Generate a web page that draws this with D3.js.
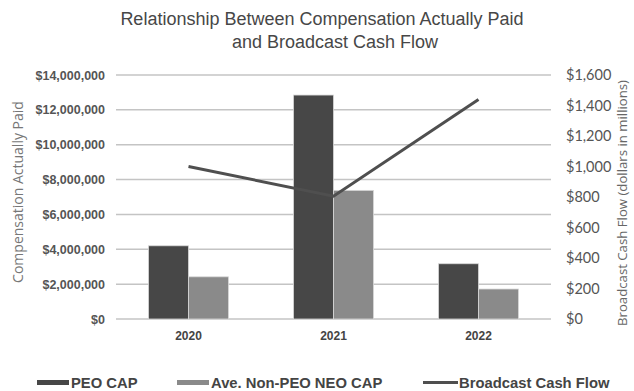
<!DOCTYPE html>
<html><head><meta charset="utf-8">
<script src="https://cdn.jsdelivr.net/npm/d3@7"></script>
<style>body{margin:0;background:#fff}svg{display:block}</style>
</head><body>
<svg id="c" width="634" height="391"></svg>
<script>
const categories = ["2020", "2021", "2022"];
const peoCap = [4200000, 12850000, 3170000];
const neoCap = [2420000, 7380000, 1720000];
const cashFlow = [1000, 805, 1440];
const leftTicks = [0, 2000000, 4000000, 6000000, 8000000, 10000000, 12000000, 14000000];
const rightTicks = [0, 200, 400, 600, 800, 1000, 1200, 1400, 1600];
const seriesNames = ["PEO CAP", "Ave. Non-PEO NEO CAP", "Broadcast Cash Flow"];

const svg = d3.select("#c");
const L = 116, R = 551, T = 75, B = 319;
const x = d3.scaleBand().domain(categories).range([L, R]).paddingInner(0).paddingOuter(0);
const yL = d3.scaleLinear().domain([0, 14000000]).range([B, T]);
const yR = d3.scaleLinear().domain([0, 1600]).range([B, T]);
const barW = 40;

// title
const title = svg.append("text").attr("fill", "#474747")
  .attr("font-family", "Liberation Sans, Arial, sans-serif").attr("font-size", 18).attr("text-anchor", "middle");
title.append("tspan").attr("x", 322).attr("y", 25).text("Relationship Between Compensation Actually Paid");
title.append("tspan").attr("x", 335).attr("y", 48).text("and Broadcast Cash Flow");

// gridlines
svg.append("g").selectAll("line").data(leftTicks).join("line")
  .attr("x1", L).attr("x2", R).attr("y1", d => yL(d)).attr("y2", d => yL(d))
  .attr("stroke", "#c4c4c4").attr("stroke-width", 1.5);

// left axis
const fmt = d3.format("$,");
const la = svg.append("g").attr("transform", `translate(${L - 11},0)`)
  .call(d3.axisLeft(yL).tickValues(leftTicks).tickFormat(d => fmt(d)).tickSize(0).tickPadding(0));
la.select(".domain").remove();
la.selectAll("text").attr("font-family", "Liberation Sans, Arial, sans-serif").attr("font-weight", "bold")
  .attr("font-size", 12.5).attr("fill", "#555");

// right axis
const ra = svg.append("g").attr("transform", `translate(566,0)`)
  .call(d3.axisRight(yR).tickValues(rightTicks).tickFormat(d => "$" + d3.format(",")(d)).tickSize(0).tickPadding(0));
ra.select(".domain").remove();
ra.selectAll("text").attr("font-family", "Lato, Open Sans, sans-serif")
  .attr("font-size", 14.5).attr("fill", "#555");

// x axis labels
const xa = svg.append("g").attr("transform", `translate(0,${B})`)
  .call(d3.axisBottom(x).tickSize(0).tickPadding(12));
xa.select(".domain").remove();
xa.selectAll("text").attr("font-family", "Liberation Sans, Arial, sans-serif").attr("font-weight", "bold")
  .attr("font-size", 12).attr("fill", "#444");

// bars
const cx = d => x(d) + x.bandwidth() / 2;
svg.append("g").selectAll("rect").data(categories).join("rect")
  .attr("x", d => cx(d) - barW).attr("width", barW)
  .attr("y", (d, i) => yL(peoCap[i])).attr("height", (d, i) => B - yL(peoCap[i]))
  .attr("fill", "#474747").attr("stroke", "#d8d8d8").attr("stroke-width", 0.8);
svg.append("g").selectAll("rect").data(categories).join("rect")
  .attr("x", d => cx(d)).attr("width", barW)
  .attr("y", (d, i) => yL(neoCap[i])).attr("height", (d, i) => B - yL(neoCap[i]))
  .attr("fill", "#8a8a8a").attr("stroke", "#d8d8d8").attr("stroke-width", 0.8);

// line
const line = d3.line().x((d, i) => cx(categories[i])).y(d => yR(d));
svg.append("path").datum(cashFlow).attr("d", line).attr("fill", "none")
  .attr("stroke", "#4f4f4f").attr("stroke-width", 3);

// axis titles
svg.append("text").attr("transform", "translate(23,192) rotate(-90)").attr("text-anchor", "middle")
  .attr("font-family", "Open Sans, sans-serif").attr("font-size", 14).attr("fill", "#777")
  .text("Compensation Actually Paid");
svg.append("text").attr("transform", "translate(627,203) rotate(-90)").attr("text-anchor", "middle")
  .attr("font-family", "Open Sans, sans-serif").attr("font-size", 13.2).attr("fill", "#666")
  .text("Broadcast Cash Flow (dollars in millions)");

// legend
const lg = svg.append("g").attr("font-family", "Liberation Sans, Arial, sans-serif")
  .attr("font-weight", "bold").attr("font-size", 14.8).attr("fill", "#444");
const legendX = [37, 177, 423];
const legendColors = ["#474747", "#8a8a8a", "#4f4f4f"];
seriesNames.forEach((n, i) => {
  if (i < 2) {
    lg.append("rect").attr("x", legendX[i]).attr("y", 380).attr("width", 32).attr("height", 5).attr("fill", legendColors[i]);
  } else {
    lg.append("line").attr("x1", legendX[i]).attr("x2", legendX[i] + 35).attr("y1", 382.5).attr("y2", 382.5)
      .attr("stroke", legendColors[i]).attr("stroke-width", 3);
  }
  lg.append("text").attr("x", legendX[i] + (i < 2 ? 34 : 36)).attr("y", 388).text(n);
});
</script>
</body></html>
